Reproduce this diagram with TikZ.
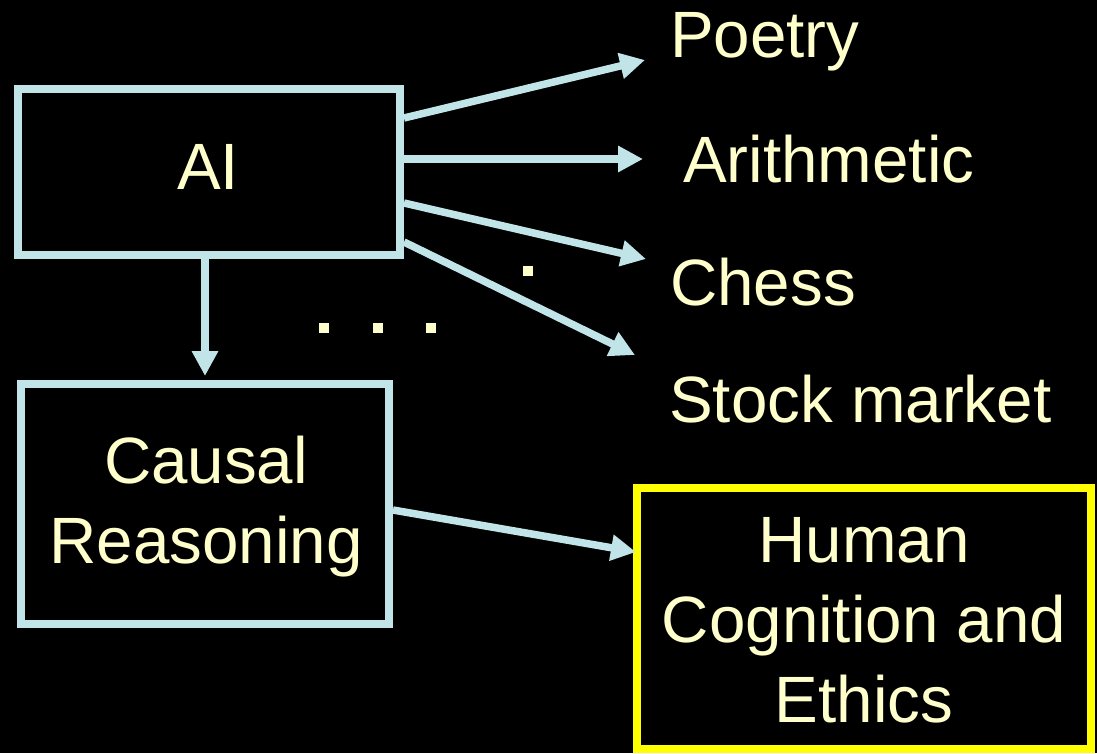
\documentclass[tikz,border=0pt]{standalone}
\usepackage{fontspec}
\setmainfont{Liberation Sans}
\usetikzlibrary{arrows.meta}
\definecolor{edgeblue}{RGB}{192,228,232}
\definecolor{paleyellow}{RGB}{255,255,204}
\definecolor{brightyellow}{RGB}{255,255,0}
\tikzset{
  box/.style={draw=edgeblue, line width=8pt, minimum width=#1, inner sep=0pt},
  label text/.style={text=paleyellow, font=\fontsize{65.5}{80}\selectfont, inner sep=0pt, align=center},
  arr/.style={draw=edgeblue, line width=7.5pt, -{Triangle[length=25pt,width=25pt]}},
  dot/.style={fill=paleyellow, minimum size=10pt, inner sep=0pt}
}
\begin{document}
\begin{tikzpicture}[x=1pt,y=-1pt]
  \fill[black] (0,0) rectangle (1097,753);
  \useasboundingbox (0,0) rectangle (1097,753);

  % boxes
  \node[box=382pt, minimum height=166pt] (ai) at (209,172) {};
  \node[box=368pt, minimum height=240pt] (causal) at (205,504) {};
  \node[box=454pt, minimum height=261pt, draw=brightyellow] (human) at (864,618.5) {};

  % box texts (base anchor sits on the last line)
  \node[label text, anchor=base] (aitext) at (208,189) {AI};
  \node[label text, anchor=base] (causaltext) at (206,563) {Causal\\Reasoning};
  \node[label text, anchor=base] (humantext) at (864,722) {Human\\Cognition and\\Ethics};

  % outcome labels
  \node[label text, anchor=base west] (poetry) at (670,57) {Poetry};
  \node[label text, anchor=base west] (arith) at (683,182) {Arithmetic};
  \node[label text, anchor=base west] (chess) at (670,305) {Chess};
  \node[label text, anchor=base west] (stock) at (669,422) {Stock market};

  % arrow tips
  \coordinate (tpoetry) at (645,60);
  \coordinate (tarith) at (643,159);
  \coordinate (tchess) at (646,259);
  \coordinate (tstock) at (635,355);

  % connectors
  \draw[arr] ([yshift=54pt]ai.east) -- (tpoetry);
  \draw[arr] ([yshift=13pt]ai.east) -- (tarith);
  \draw[arr] ([yshift=-31pt]ai.east) -- (tchess);
  \draw[arr] ([yshift=-70pt]ai.east) -- (tstock);
  \draw[arr] (ai.south -| causal.north) -- ([yshift=4pt]causal.north);
  \draw[arr] ([yshift=-6pt]causal.east) -- ([yshift=66.5pt,xshift=3pt]human.west);

  % ellipsis dots
  \node[dot] (d1) at (324,328) {};
  \node[dot] (d2) at (378,328) {};
  \node[dot] (d3) at (431,328) {};
  \node[dot] (d4) at (528,271) {};
\end{tikzpicture}
\end{document}
